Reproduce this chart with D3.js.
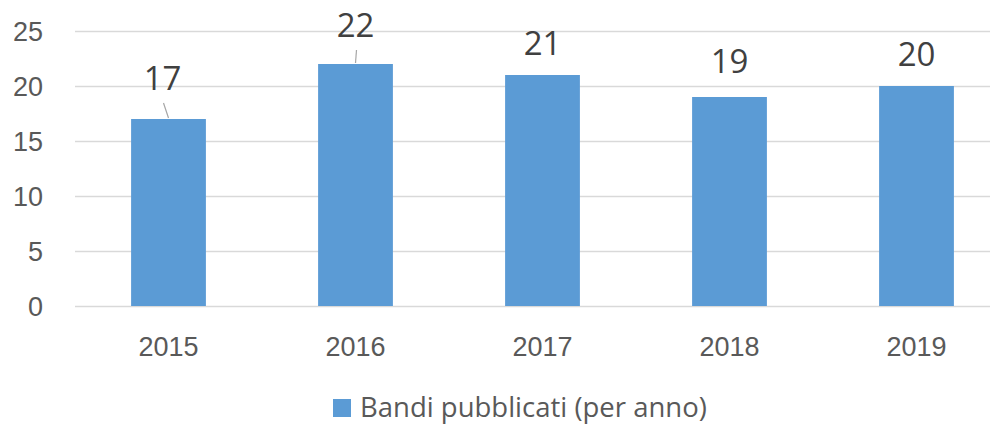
<!DOCTYPE html>
<html lang="it">
<head>
<meta charset="UTF-8">
<title>Bandi pubblicati</title>
<script src="https://d3js.org/d3.v7.min.js"></script>
<style>
  html, body { margin: 0; padding: 0; background: #fff; }
  svg { display: block; font-family: "Open Sans", "Liberation Sans", sans-serif; }
</style>
</head>
<body>
<div id="chart"></div>
<script>
// Dati del grafico
const anni = ['2015', '2016', '2017', '2018', '2019'];
const bandi = [17, 22, 21, 19, 20];
const yTicks = [0, 5, 10, 15, 20, 25];
const serieNome = 'Bandi pubblicati (per anno)';

const width = 990, height = 426;
const colore = '#5B9BD5';

const svg = d3.select('#chart').append('svg')
  .attr('width', width)
  .attr('height', height);

const x = d3.scaleBand()
  .domain(anni)
  .range([75, 1010])
  .paddingInner(0.6)
  .paddingOuter(0.3);

const y = d3.scaleLinear()
  .domain([0, 25])
  .range([306, 31]);

// Griglia e etichette asse Y
const yAxis = svg.append('g')
  .attr('transform', 'translate(75,0)')
  .call(d3.axisLeft(y).tickValues(yTicks).tickSize(-(width - 75)).tickPadding(32));
yAxis.select('.domain').remove();
yAxis.selectAll('.tick line').attr('stroke', '#D9D9D9').attr('stroke-width', 1.5);
yAxis.selectAll('.tick text')
  .attr('fill', '#595959')
  .style('font-size', '27px')
  .attr('dy', '0.36em');

// Barre
svg.append('g').selectAll('rect')
  .data(bandi)
  .join('rect')
  .attr('x', (d, i) => x(anni[i]))
  .attr('y', d => y(d))
  .attr('width', x.bandwidth())
  .attr('height', d => y(0) - y(d))
  .attr('fill', colore);

// Etichette asse X
const xAxis = svg.append('g')
  .attr('transform', `translate(0,${y(0)})`)
  .call(d3.axisBottom(x).tickSize(0).tickPadding(31));
xAxis.select('.domain').remove();
xAxis.selectAll('.tick text')
  .attr('fill', '#595959')
  .style('font-size', '27px');

// Etichette dei valori (alcune spostate a mano con linea guida, come in Excel)
const spostamenti = { '2015': { dx: -6, dy: -9, guida: true }, '2016': { dx: 0, dy: -7, guida: true }, '2018': { dx: 0, dy: -4 } };

const etichette = svg.append('g');
bandi.forEach((v, i) => {
  const a = anni[i];
  const s = spostamenti[a] || { dx: 0, dy: 0 };
  const cx = x(a) + x.bandwidth() / 2;
  const base = y(v) - 20 + s.dy;
  etichette.append('text')
    .attr('x', cx + s.dx)
    .attr('y', base)
    .attr('text-anchor', 'middle')
    .attr('fill', '#404040')
    .style('font-size', '33px')
    .text(v);
  if (s.guida) {
    etichette.append('line')
      .attr('x1', cx + s.dx + 1)
      .attr('y1', base + 13)
      .attr('x2', cx)
      .attr('y2', y(v) - 1)
      .attr('stroke', '#A6A6A6')
      .attr('stroke-width', 1.2);
  }
});

// Legenda
const leg = svg.append('g').attr('transform', 'translate(333,399)');
leg.append('rect').attr('width', 18).attr('height', 18).attr('fill', colore);
leg.append('text')
  .attr('x', 27)
  .attr('y', 18)
  .attr('fill', '#595959')
  .style('font-size', '27.5px')
  .text(serieNome);
</script>
</body>
</html>
